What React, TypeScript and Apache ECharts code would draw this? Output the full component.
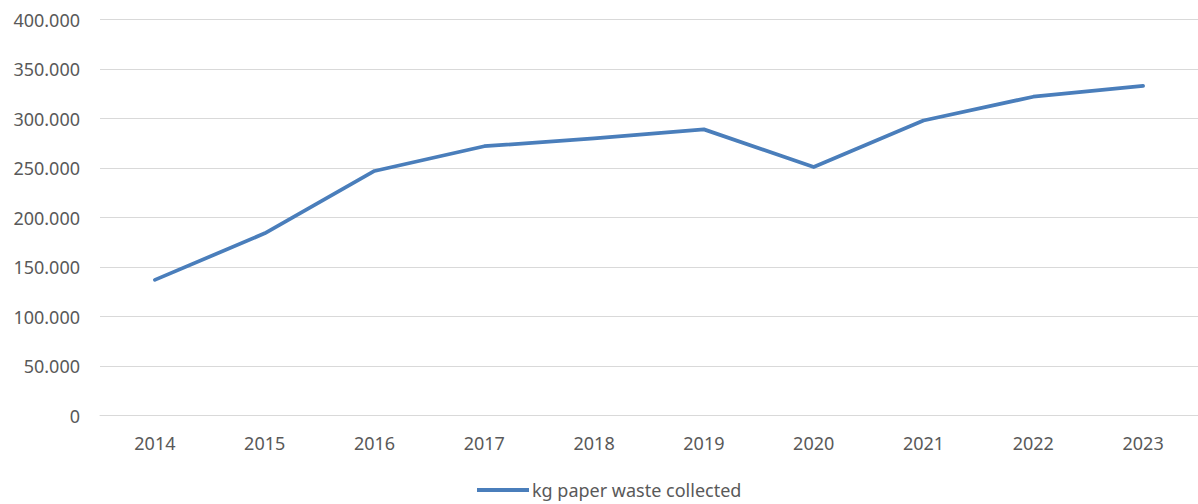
import React, { useEffect, useRef } from "react";
import * as echarts from "echarts";

const years = ["2014", "2015", "2016", "2017", "2018", "2019", "2020", "2021", "2022", "2023"];
const paperWaste = [137000, 184000, 247000, 272000, 280000, 289000, 251000, 298000, 322000, 333000];
const seriesName = "kg paper waste collected";

const fmt = (v: number) => (v === 0 ? "0" : String(v).replace(/\B(?=(\d{3})+(?!\d))/g, "."));

export default function App() {
  const ref = useRef<HTMLDivElement>(null);
  useEffect(() => {
    const chart = echarts.init(ref.current!, undefined, { renderer: "svg" });
    chart.setOption({
      animation: false,
      backgroundColor: "#ffffff",
      textStyle: { fontFamily: "Noto Sans" },
      grid: { left: 100, right: 0, top: 19.5, bottom: 88.5 },
      legend: {
        data: [{ name: seriesName, icon: "rect" }],
        left: 477,
        top: 481,
        padding: 0,
        itemWidth: 52,
        itemHeight: 4,
        itemStyle: { color: "#4a7ebb" },
        textStyle: { fontSize: 18, color: "#595959", fontFamily: "Noto Sans", padding: [0, 0, 0, -2] },
      },
      xAxis: {
        type: "category",
        data: years,
        boundaryGap: true,
        axisLine: { show: true, lineStyle: { color: "#d9d9d9", width: 1 } },
        axisTick: { show: false },
        axisLabel: { color: "#595959", fontSize: 18, margin: 18, fontFamily: "Noto Sans" },
      },
      yAxis: {
        type: "value",
        min: 0,
        max: 400000,
        interval: 50000,
        axisLine: { show: false },
        axisTick: { show: false },
        splitLine: { lineStyle: { color: "#d9d9d9", width: 1 } },
        axisLabel: { color: "#595959", fontSize: 18, margin: 20, formatter: fmt, fontFamily: "Noto Sans" },
      },
      series: [
        {
          name: seriesName,
          type: "line",
          data: paperWaste,
          symbol: "none",
          lineStyle: { color: "#4a7ebb", width: 3.75, cap: "round", join: "round" },
          itemStyle: { color: "#4a7ebb" },
        },
      ],
    });
    return () => chart.dispose();
  }, []);
  return (
    <div
      ref={ref}
      style={{ position: "fixed", left: 0, top: 0, width: 1198, height: 504, background: "#fff" }}
    />
  );
}
